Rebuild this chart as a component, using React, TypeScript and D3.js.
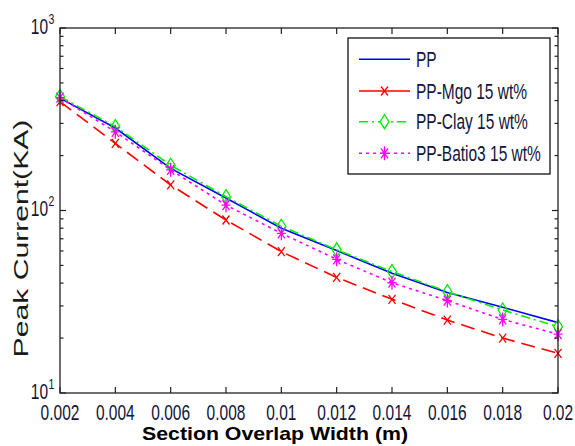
import React from 'react';
import * as d3 from 'd3';

const xValues = [0.002, 0.004, 0.006, 0.008, 0.01, 0.012, 0.014, 0.016, 0.018, 0.02];
const ppValues = [413, 283, 170, 117, 80, 60.3, 45.3, 35.5, 29.5, 24.3];
const mgoValues = [395, 233, 138, 88.7, 59.5, 43, 32.6, 25.1, 20, 16.5];
const clayValues = [421, 288, 177, 119, 82, 60.9, 46.3, 35.9, 28.5, 23.1];
const batioValues = [415, 270, 167, 107, 75, 54, 40.2, 32.1, 25.3, 21.0];
const seriesNames = ['PP', 'PP-Mgo 15 wt%', 'PP-Clay 15 wt%', 'PP-Batio3 15 wt%'];
const xTickLabels = ['0.002', '0.004', '0.006', '0.008', '0.01', '0.012', '0.014', '0.016', '0.018', '0.02'];
const yTickValues = [10, 100, 1000];
const yTickExponents = ['1', '2', '3'];
const xAxisTitle = 'Section Overlap Width (m)';
const yAxisTitle = 'Peak Current(KA)';

const FONT = '"Liberation Sans", Arial, sans-serif';
const SY = 1.47;

type MarkerKind = 'none' | 'x' | 'diamond' | 'star';

function markerPath(kind: MarkerKind, cx: number, cy: number): string {
  if (kind === 'x') {
    return `M${cx - 3.5},${cy - 4.5}L${cx + 3.5},${cy + 4.5}M${cx - 3.5},${cy + 4.5}L${cx + 3.5},${cy - 4.5}`;
  }
  if (kind === 'diamond') {
    return `M${cx},${cy - 7}L${cx + 4.5},${cy}L${cx},${cy + 7}L${cx - 4.5},${cy}Z`;
  }
  if (kind === 'star') {
    return `M${cx - 4.5},${cy}H${cx + 4.5}M${cx},${cy - 7}V${cy + 7}M${cx - 3.5},${cy - 5}L${cx + 3.5},${cy + 5}M${cx - 3.5},${cy + 5}L${cx + 3.5},${cy - 5}`;
  }
  return '';
}

export default function App() {
  const W = 575;
  const H = 446;
  const left = 60, right = 558, top = 28, bottom = 393;
  const x = d3.scaleLinear().domain([0.002, 0.02]).range([left, right]);
  const y = d3.scaleLog().domain([10, 1000]).range([bottom, top]);

  const series = [
    { name: seriesNames[0], values: ppValues, color: '#0000ff', dash: '', marker: 'none' as MarkerKind },
    { name: seriesNames[1], values: mgoValues, color: '#ff0000', dash: '14,7', marker: 'x' as MarkerKind },
    { name: seriesNames[2], values: clayValues, color: '#00ee00', dash: '9,4,2,4', marker: 'diamond' as MarkerKind },
    { name: seriesNames[3], values: batioValues, color: '#ff00ff', dash: '3,4', marker: 'star' as MarkerKind },
  ];

  const line = d3
    .line<number>()
    .x((_, i) => x(xValues[i]))
    .y((d) => y(d));

  const minorTicks: number[] = [];
  for (const base of [10, 100]) {
    for (let k = 2; k <= 9; k++) minorTicks.push(base * k);
  }

  const legendX = 348, legendY = 38, legendW = 202, legendH = 136;
  const legendRows = [59.3, 91, 121.7, 153.3];

  return (
    <svg
      width={W}
      height={H}
      viewBox={`0 0 ${W} ${H}`}
      style={{ position: 'absolute', left: 0, top: 0, background: '#fff' }}
      fontFamily={FONT}
    >
      <rect x={0} y={0} width={W} height={H} fill="#fff" />

      {/* series */}
      {series.map((s) => (
        <g key={s.name}>
          <path
            d={line(s.values) || ''}
            fill="none"
            stroke={s.color}
            strokeWidth={1.6}
            strokeDasharray={s.dash || undefined}
          />
          {s.marker !== 'none' &&
            s.values.map((v, i) => (
              <path
                key={i}
                d={markerPath(s.marker, x(xValues[i]), y(v))}
                fill="none"
                stroke={s.color}
                strokeWidth={1.3}
              />
            ))}
        </g>
      ))}

      {/* axes box */}
      <rect x={left} y={top} width={right - left} height={bottom - top} fill="none" stroke="#222" strokeWidth={1.3} />

      {/* x ticks */}
      {xValues.map((v, i) => (
        <g key={'xt' + i}>
          <line x1={x(v)} x2={x(v)} y1={bottom} y2={bottom - 6} stroke="#222" strokeWidth={1.2} />
          <line x1={x(v)} x2={x(v)} y1={top} y2={top + 6} stroke="#222" strokeWidth={1.2} />
          <text
            transform={`translate(${x(v)},${420}) scale(1,${SY})`}
            fontSize={15.5}
            textAnchor="middle"
            fill="#14143a"
          >
            {xTickLabels[i]}
          </text>
        </g>
      ))}

      {/* y ticks */}
      {yTickValues.map((v, i) => (
        <g key={'yt' + i}>
          <line x1={left} x2={left + 6} y1={y(v)} y2={y(v)} stroke="#222" strokeWidth={1.2} />
          <line x1={right} x2={right - 6} y1={y(v)} y2={y(v)} stroke="#222" strokeWidth={1.2} />
          <text
            transform={`translate(${48},${y(v) + 5.5}) scale(1,${SY})`}
            fontSize={15.5}
            textAnchor="end"
            fill="#14143a"
          >
            10
          </text>
          <text
            transform={`translate(${48.5},${y(v) - 4.5}) scale(1,${SY})`}
            fontSize={10.5}
            textAnchor="start"
            fill="#14143a"
          >
            {yTickExponents[i]}
          </text>
        </g>
      ))}
      {minorTicks.map((v) => (
        <g key={'ym' + v}>
          <line x1={left} x2={left + 3.5} y1={y(v)} y2={y(v)} stroke="#222" strokeWidth={1.2} />
          <line x1={right} x2={right - 3.5} y1={y(v)} y2={y(v)} stroke="#222" strokeWidth={1.2} />
        </g>
      ))}

      {/* axis titles */}
      <text
        x={275}
        y={440}
        fontSize={19}
        fontWeight="bold"
        textAnchor="middle"
        textLength={266}
        lengthAdjust="spacingAndGlyphs"
        fill="#000"
      >
        {xAxisTitle}
      </text>
      <text
        transform={`translate(28,238.5) rotate(-90) scale(${SY},1)`}
        fontSize={20.5}
        textAnchor="middle"
        fill="#1a1a1a"
      >
        {yAxisTitle}
      </text>

      {/* legend */}
      <rect x={legendX} y={legendY} width={legendW} height={legendH} fill="#fff" stroke="#111" strokeWidth={1.3} />
      {series.map((s, i) => (
        <g key={'lg' + i}>
          <line
            x1={359}
            x2={410}
            y1={legendRows[i]}
            y2={legendRows[i]}
            stroke={s.color}
            strokeWidth={1.6}
            strokeDasharray={s.marker === 'x' ? undefined : s.dash || undefined}
          />
          {s.marker !== 'none' && (
            <path d={markerPath(s.marker, 384.5, legendRows[i])} fill="#fff" stroke={s.color} strokeWidth={1.3} />
          )}
          <text
            transform={`translate(416,${legendRows[i] + 7.5}) scale(1,${SY})`}
            fontSize={15.5}
            fill="#14143a"
          >
            {s.name}
          </text>
        </g>
      ))}
    </svg>
  );
}
